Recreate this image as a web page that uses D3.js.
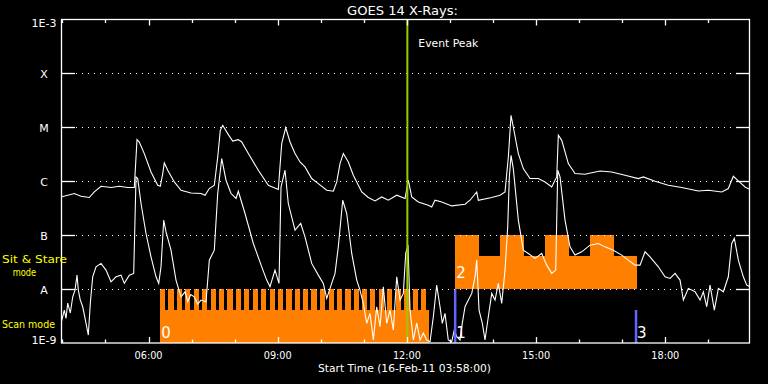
<!DOCTYPE html>
<html><head><meta charset="utf-8">
<script src="https://cdn.jsdelivr.net/npm/d3@7"></script>
<style>
body{margin:0;background:#000}
svg{display:block;background:#000}
text{font-family:"DejaVu Sans",sans-serif;fill:#fff}
</style>
</head><body>
<svg id="chart" width="768" height="384"></svg>
<script>
// ---- data (time in decimal hours UT, flux as log10 W/m^2) ----
const timeDomain = [3.9667, 19.9667];           // 03:58 start, 16 h span
const xTickHours = [4,5,6,7,8,9,10,11,12,13,14,15,16,17,18,19];
const xMajorHours = [6,9,12,15,18];
const xTickLabels = ["06:00","09:00","12:00","15:00","18:00"];
const yTickValues = [1e-9,1e-8,1e-7,1e-6,1e-5,1e-4,1e-3];
const yTickLabels = ["1E-9","A","B","C","M","X","1E-3"];

const longChannel = [[3.967,-6.291],[4.276,-6.228],[4.431,-6.278],[4.624,-6.302],[4.740,-6.198],[4.896,-6.093],[5.128,-6.117],[5.321,-6.093],[5.516,-6.117],[5.669,-6.117],[5.732,-5.228],[5.785,-5.272],[5.901,-5.487],[6.057,-5.828],[6.213,-6.074],[6.273,-6.093],[6.329,-5.857],[6.366,-5.661],[6.445,-5.796],[6.598,-6.013],[6.754,-6.167],[6.986,-6.217],[7.218,-6.228],[7.311,-6.259],[7.411,-6.135],[7.527,-6.074],[7.606,-5.550],[7.666,-5.056],[7.722,-4.963],[7.838,-5.117],[7.954,-5.254],[8.084,-5.228],[8.163,-5.272],[8.317,-5.487],[8.549,-5.796],[8.781,-6.074],[9.013,-6.154],[9.092,-5.302],[9.185,-5.006],[9.285,-5.272],[9.401,-5.487],[9.517,-5.643],[9.633,-5.735],[9.789,-5.950],[9.942,-6.043],[10.137,-6.167],[10.291,-6.185],[10.370,-6.013],[10.446,-5.672],[10.523,-5.487],[10.639,-5.643],[10.755,-5.889],[10.950,-6.198],[11.103,-6.302],[11.259,-6.365],[11.414,-6.291],[11.568,-6.352],[11.763,-6.259],[11.956,-6.320],[12.032,-5.981],[12.111,-6.291],[12.264,-6.383],[12.497,-6.444],[12.576,-6.476],[12.652,-6.352],[12.808,-6.383],[13.040,-6.457],[13.349,-6.426],[13.465,-6.352],[13.621,-6.198],[13.658,-6.352],[13.969,-6.302],[14.162,-6.259],[14.278,-6.198],[14.355,-5.550],[14.417,-4.778],[14.470,-4.994],[14.587,-5.487],[14.703,-5.765],[14.858,-5.950],[15.051,-5.950],[15.207,-6.013],[15.362,-6.106],[15.478,-5.920],[15.516,-5.148],[15.595,-5.241],[15.748,-5.672],[15.903,-5.857],[16.136,-5.870],[16.212,-5.857],[16.484,-5.809],[16.755,-5.828],[17.064,-5.889],[17.373,-5.950],[17.490,-5.920],[17.761,-6.000],[18.070,-6.074],[18.381,-6.117],[18.767,-6.180],[18.999,-6.167],[19.310,-6.198],[19.463,-6.135],[19.579,-5.907],[19.696,-5.994],[19.851,-6.106],[19.967,-6.154]];

const shortChannel = [[3.967,-8.635],[4.044,-8.389],[4.083,-8.543],[4.123,-8.259],[4.183,-8.444],[4.239,-8.143],[4.292,-8.019],[4.339,-7.741],[4.369,-8.019],[4.415,-8.204],[4.471,-8.328],[4.548,-8.635],[4.601,-8.852],[4.647,-8.265],[4.703,-7.772],[4.780,-7.587],[4.896,-7.524],[5.012,-7.648],[5.128,-7.865],[5.244,-7.772],[5.360,-7.741],[5.437,-7.894],[5.553,-7.741],[5.655,-7.709],[5.709,-5.920],[5.748,-5.950],[5.825,-6.413],[5.941,-6.969],[6.057,-7.402],[6.173,-7.772],[6.236,-7.894],[6.289,-7.587],[6.352,-6.722],[6.405,-6.939],[6.521,-7.278],[6.637,-7.833],[6.754,-8.143],[6.850,-8.05],[6.909,-8.235],[6.98,-8.10],[7.062,-8.143],[7.14,-8.28],[7.218,-8.204],[7.334,-8.235],[7.411,-7.463],[7.527,-7.278],[7.606,-6.228],[7.699,-5.580],[7.799,-5.981],[7.915,-6.228],[8.031,-6.320],[8.084,-6.185],[8.240,-6.598],[8.433,-7.154],[8.628,-7.587],[8.744,-7.833],[8.820,-7.957],[8.936,-7.648],[9.029,-7.894],[9.076,-6.106],[9.169,-5.796],[9.245,-6.413],[9.401,-6.907],[9.533,-6.783],[9.633,-7.031],[9.789,-7.524],[9.942,-7.741],[10.058,-7.894],[10.137,-8.172],[10.253,-7.894],[10.330,-7.709],[10.406,-7.217],[10.509,-6.352],[10.602,-6.598],[10.718,-7.339],[10.834,-7.833],[10.910,-8.019],[10.987,-8.265],[11.066,-8.635],[11.143,-8.450],[11.220,-8.944],[11.298,-8.328],[11.375,-8.698],[11.452,-7.957],[11.530,-8.635],[11.607,-8.389],[11.684,-8.759],[11.763,-7.772],[11.840,-8.204],[11.916,-8.080],[11.972,-7.339],[12.025,-7.185],[12.072,-8.389],[12.149,-8.944],[12.227,-8.630],[12.304,-8.944],[12.381,-8.815],[12.459,-8.944],[12.536,-8.976],[12.613,-8.513],[12.691,-7.926],[12.768,-8.328],[12.821,-8.635],[12.884,-8.450],[12.960,-8.944],[13.040,-8.976],[13.100,-8.759],[13.156,-8.883],[13.232,-8.944],[13.286,-8.630],[13.349,-8.328],[13.426,-8.204],[13.505,-8.080],[13.581,-7.772],[13.621,-7.463],[13.674,-8.389],[13.751,-8.635],[13.813,-8.944],[13.890,-8.513],[13.969,-8.080],[14.046,-8.204],[14.122,-7.894],[14.201,-8.265],[14.278,-7.648],[14.340,-6.846],[14.378,-5.920],[14.417,-5.519],[14.470,-5.765],[14.587,-6.722],[14.703,-7.278],[14.819,-7.339],[14.975,-7.431],[15.130,-7.339],[15.246,-7.556],[15.362,-7.709],[15.455,-7.648],[15.502,-5.796],[15.555,-5.920],[15.671,-6.722],[15.787,-7.217],[15.903,-7.370],[16.059,-7.309],[16.252,-7.185],[16.445,-7.154],[16.600,-7.217],[16.793,-7.278],[16.988,-7.370],[17.141,-7.463],[17.297,-7.556],[17.413,-7.556],[17.529,-7.309],[17.645,-7.402],[17.838,-7.587],[17.993,-7.772],[18.110,-7.802],[18.226,-7.709],[18.342,-7.833],[18.419,-8.204],[18.535,-7.987],[18.691,-8.050],[18.807,-8.204],[18.884,-8.050],[18.962,-8.328],[19.039,-7.926],[19.139,-8.389],[19.232,-7.987],[19.348,-8.050],[19.463,-7.772],[19.542,-7.154],[19.603,-7.061],[19.696,-7.463],[19.812,-7.772],[19.891,-7.926],[19.967,-7.957]];

// observing mode bars
const scanSpan = [6.27, 12.51];
const scanLevels = {base:1e-9, low:4.1e-9, high:1e-8};
const scanHigh = [[6.27,6.39],[6.46,6.58],[6.66,6.78],[6.85,6.97],[7.05,7.17],[7.24,7.36],[7.44,7.56],[7.63,7.75],[7.83,7.95],[8.03,8.15],[8.22,8.34],[8.42,8.54],[8.61,8.73],[8.81,8.93],[9.00,9.12],[9.20,9.32],[9.39,9.51],[9.59,9.71],[9.78,9.90],[9.98,10.10],[10.18,10.30],[10.37,10.49],[10.57,10.69],[10.76,10.88],[10.96,11.08],[11.15,11.27],[11.35,11.47],[11.54,11.66],[11.74,11.86],[11.94,12.06],[12.13,12.25],[12.33,12.45]];
const sitLevels = {base:1e-8, low:4.1e-8, high:1e-7};
const sitStare = [[13.12,13.65,"high"],[13.65,14.16,"low"],[14.16,14.70,"high"],[14.70,15.21,"low"],[15.21,15.74,"high"],[15.74,16.25,"low"],[16.25,16.79,"high"],[16.79,17.32,"low"]];
const modeMarkers = [[13.12,1e-9,1e-8],[17.32,1e-9,4.1e-9]];
const modeLabels = [[6.27,"0","scan"],[13.12,"1","scan"],[13.12,"2","sit"],[17.32,"3","scan"]];
const eventPeak = 12.01;

// ---- drawing ----
const svg = d3.select("#chart");
const L = 61, R = 750, T = 19.5, B = 343;
const x = d3.scaleLinear().domain(timeDomain).range([L, R]);
const y = d3.scaleLog().domain([1e-9, 1e-3]).range([B, T]);
const orange = "#ff8000", blue = "#6464ff", green = "#99cc00";

svg.append("defs").append("clipPath").attr("id","clip")
  .append("rect").attr("x",L).attr("y",T).attr("width",R-L).attr("height",B-T);

const plot = svg.append("g").attr("clip-path","url(#clip)");
const bars = plot.append("g").attr("shape-rendering","crispEdges").attr("fill",orange);

// scan-mode bars
bars.append("rect").attr("x",x(scanSpan[0])).attr("width",x(scanSpan[1])-x(scanSpan[0]))
  .attr("y",y(scanLevels.low)).attr("height",y(scanLevels.base)-y(scanLevels.low));
bars.selectAll(".tooth").data(scanHigh).join("rect")
  .attr("x",d=>x(d[0])).attr("width",d=>x(d[1])-x(d[0]))
  .attr("y",y(scanLevels.high)).attr("height",y(scanLevels.low)-y(scanLevels.high)+1);
// sit & stare bars
bars.selectAll(".sit").data(sitStare).join("rect")
  .attr("x",d=>x(d[0])).attr("width",d=>x(d[1])-x(d[0])+0.6)
  .attr("y",d=>y(sitLevels[d[2]])).attr("height",d=>y(sitLevels.base)-y(sitLevels[d[2]]));

// dotted grid
const gridVals = yTickValues.slice(1,-1);
svg.append("g").selectAll("line").data(gridVals).join("line")
  .attr("x1",L+15).attr("x2",R-14)
  .attr("y1",d=>Math.round(y(d))+0.5).attr("y2",d=>Math.round(y(d))+0.5)
  .attr("stroke","#fff").attr("stroke-width",1).attr("stroke-dasharray","1 5");

// curves
const line = d3.line().x(d=>x(d[0])).y(d=>y(Math.pow(10,d[1])));
plot.append("path").datum(longChannel).attr("d",line).attr("fill","none").attr("stroke","#fff").attr("stroke-width",1.1);
plot.append("path").datum(shortChannel).attr("d",line).attr("fill","none").attr("stroke","#fff").attr("stroke-width",1.1);

// mode markers
plot.selectAll(".mk").data(modeMarkers).join("line")
  .attr("x1",d=>x(d[0])).attr("x2",d=>x(d[0]))
  .attr("y1",d=>y(d[1])).attr("y2",d=>y(d[2]))
  .attr("stroke",blue).attr("stroke-width",2.5);
svg.selectAll(".ml").data(modeLabels).join("text")
  .attr("x",d=>x(d[0])+1)
  .attr("y",d=>d[2]==="scan"? y(scanLevels.base)-5 : y(sitLevels.base)-11)
  .attr("font-size",15).text(d=>d[1]);

// event peak
svg.append("line").attr("x1",x(eventPeak)).attr("x2",x(eventPeak)).attr("y1",T).attr("y2",B)
  .attr("stroke",green).attr("stroke-width",2);
svg.append("text").attr("x",x(eventPeak)+11).attr("y",47).attr("font-size",11)
  .attr("textLength",60).attr("lengthAdjust","spacingAndGlyphs").text("Event Peak");

// frame
svg.append("rect").attr("x",L+0.5).attr("y",T).attr("width",R-L-1).attr("height",B-T)
  .attr("fill","none").attr("stroke","#fff").attr("stroke-width",1.3);

// y ticks (both sides)
const yt = svg.append("g").attr("stroke","#fff").attr("stroke-width",1.3);
gridVals.forEach(v=>{
  const yy = Math.round(y(v))+0.5;
  yt.append("line").attr("x1",L).attr("x2",L+14).attr("y1",yy).attr("y2",yy);
  yt.append("line").attr("x1",R-14).attr("x2",R).attr("y1",yy).attr("y2",yy);
});
// x ticks top and bottom
xTickHours.forEach(h=>{
  const len = xMajorHours.includes(h) ? 6 : 3.5;
  const xx = Math.round(x(h))+0.5;
  yt.append("line").attr("x1",xx).attr("x2",xx).attr("y1",B).attr("y2",B-len);
  yt.append("line").attr("x1",xx).attr("x2",xx).attr("y1",T).attr("y2",T+len);
});

// y labels
svg.selectAll(".yl").data(yTickValues).join("text")
  .attr("x",44).attr("text-anchor","middle").attr("font-size",11)
  .attr("y",(d,i)=> i===0 ? y(d)+1 : (i===yTickValues.length-1 ? y(d)+7.5 : y(d)+4.7))
  .text((d,i)=>yTickLabels[i]);

// x labels
svg.selectAll(".xl").data(xMajorHours).join("text")
  .attr("x",d=>x(d)).attr("y",359).attr("text-anchor","middle").attr("font-size",10.3)
  .attr("textLength",28).attr("lengthAdjust","spacingAndGlyphs")
  .text((d,i)=>xTickLabels[i]);

svg.append("text").attr("x",318).attr("y",372).attr("font-size",10.8)
  .attr("textLength",173).attr("lengthAdjust","spacingAndGlyphs").text("Start Time (16-Feb-11 03:58:00)");
svg.append("text").attr("x",347).attr("y",14.5).attr("font-size",12.5)
  .attr("textLength",111).attr("lengthAdjust","spacingAndGlyphs").text("GOES 14 X-Rays:");

// mode captions
const yellow = "#ffff00";
svg.append("text").attr("x",2).attr("y",263).attr("font-size",10).style("fill",yellow)
  .attr("textLength",65).attr("lengthAdjust","spacingAndGlyphs").text("Sit & Stare");
svg.append("text").attr("x",12.7).attr("y",276).attr("font-size",10).style("fill",yellow)
  .attr("textLength",23.5).attr("lengthAdjust","spacingAndGlyphs").text("mode");
svg.append("text").attr("x",2).attr("y",328).attr("font-size",10.5).style("fill",yellow)
  .attr("textLength",53).attr("lengthAdjust","spacingAndGlyphs").text("Scan mode");
</script>
</body></html>
